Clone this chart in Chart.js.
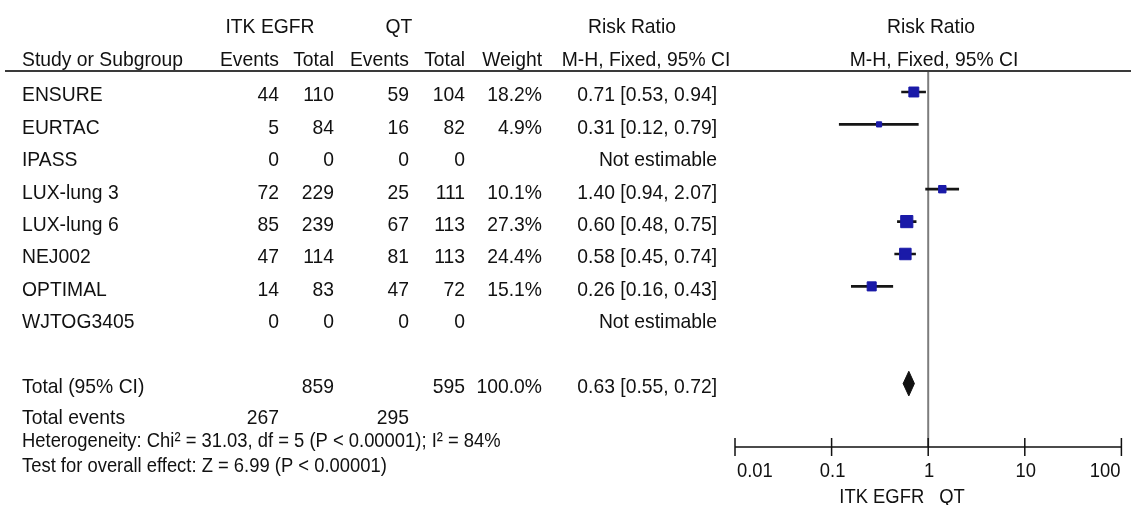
<!DOCTYPE html>
<html>
<head>
<meta charset="utf-8">
<script src="https://cdn.jsdelivr.net/npm/chart.js@4.4.1/dist/chart.umd.min.js"></script>
<style>
  html, body { margin: 0; padding: 0; background: #ffffff; }
  #wrap { width: 1131px; height: 505px; }
</style>
</head>
<body>
<div id="wrap"><canvas id="forest" width="1131" height="505"></canvas></div>
<script>
// Study-level data (risk ratio, M-H fixed effect)
const studies    = ['ENSURE', 'EURTAC', 'IPASS', 'LUX-lung 3', 'LUX-lung 6', 'NEJ002', 'OPTIMAL', 'WJTOG3405'];
const egfrEvents = [44, 5, 0, 72, 85, 47, 14, 0];
const egfrTotal  = [110, 84, 0, 229, 239, 114, 83, 0];
const qtEvents   = [59, 16, 0, 25, 67, 81, 47, 0];
const qtTotal    = [104, 82, 0, 111, 113, 113, 72, 0];
const weights    = [18.2, 4.9, null, 10.1, 27.3, 24.4, 15.1, null];
const riskRatio  = [0.71, 0.31, null, 1.40, 0.60, 0.58, 0.26, null];
const ciLow      = [0.53, 0.12, null, 0.94, 0.48, 0.45, 0.16, null];
const ciHigh     = [0.94, 0.79, null, 2.07, 0.75, 0.74, 0.43, null];

// Pooled result
const pooledRR = 0.63, pooledLow = 0.55, pooledHigh = 0.72;
const pooledEgfrTotal = 859, pooledQtTotal = 595, pooledWeight = '100.0%';
const eventsEgfr = 267, eventsQt = 295;
const heterogeneityText = 'Heterogeneity: Chi\u00B2 = 31.03, df = 5 (P < 0.00001); I\u00B2 = 84%';
const overallText = 'Test for overall effect: Z = 6.99 (P < 0.00001)';

// Axis
const axisTicks  = [0.01, 0.1, 1, 10, 100];
const axisTickLabels = ['0.01', '0.1', '1', '10', '100'];
const favoursLeft = 'ITK EGFR', favoursRight = 'QT';

// Row slots on the vertical scale
const pooledRow = 9;
const eventsRow = 9.95;
const hetRow = 10.66;
const overallRow = 11.42;

const fmtRR = (i) => riskRatio[i] == null ? 'Not estimable'
  : riskRatio[i].toFixed(2) + ' [' + ciLow[i].toFixed(2) + ', ' + ciHigh[i].toFixed(2) + ']';

const studyRows = studies.map((s, i) => i).filter(i => riskRatio[i] != null);

const ciData = studyRows.map(i => ({ x: [ciLow[i], ciHigh[i]], y: i }));
const pointData = studyRows.map(i => ({ x: riskRatio[i], y: i }));
// marker area follows the study weight
const pointSizes = studyRows.map(i => 8.6 * Math.sqrt(weights[i] / 27.3));
const diamondH = 0.38;
const diamondData = [
  { x: pooledLow, y: pooledRow },
  { x: pooledRR, y: pooledRow - diamondH },
  { x: pooledHigh, y: pooledRow },
  { x: pooledRR, y: pooledRow + diamondH },
  { x: pooledLow, y: pooledRow }
];

const FONT = '"Liberation Sans", Arial, sans-serif';
const INK = '#111111';

function txt(ctx, s, x, y, align, size, sx) {
  ctx.save();
  ctx.font = size + 'px ' + FONT;
  ctx.fillStyle = INK;
  ctx.textBaseline = 'alphabetic';
  ctx.textAlign = align;
  ctx.translate(x, y);
  ctx.scale(sx, 1);
  ctx.fillText(s, 0, 0);
  ctx.restore();
}

const cols = { study: 22, ee: 279, et: 334, qe: 409, qt: 465, w: 542, ci: 717 };
const SX = 0.92;

const forestPlugin = {
  id: 'forestTable',
  beforeDatasetsDraw(chart) {
    const { ctx, chartArea, scales } = chart;
    const x1 = scales.x.getPixelForValue(1);
    ctx.save();
    ctx.strokeStyle = '#7d7d7d';
    ctx.lineWidth = 2;
    ctx.beginPath();
    ctx.moveTo(x1, chartArea.top);
    ctx.lineTo(x1, chartArea.bottom);
    ctx.stroke();
    ctx.restore();
  },
  afterDraw(chart) {
    const { ctx, chartArea, scales } = chart;
    const xs = scales.x, ys = scales.y;
    const rowY = (r) => ys.getPixelForValue(r) + 9.5;

    // header
    txt(ctx, 'ITK EGFR', 270, 33, 'center', 21, SX);
    txt(ctx, 'QT', 399, 33, 'center', 21, SX);
    txt(ctx, 'Risk Ratio', 632, 33, 'center', 21, SX);
    txt(ctx, 'Risk Ratio', 931, 33, 'center', 21, SX);
    txt(ctx, 'Study or Subgroup', cols.study, 66, 'left', 21, SX);
    txt(ctx, 'Events', cols.ee, 66, 'right', 21, SX);
    txt(ctx, 'Total', cols.et, 66, 'right', 21, SX);
    txt(ctx, 'Events', cols.qe, 66, 'right', 21, SX);
    txt(ctx, 'Total', cols.qt, 66, 'right', 21, SX);
    txt(ctx, 'Weight', cols.w, 66, 'right', 21, SX);
    txt(ctx, 'M-H, Fixed, 95% CI', 646, 66, 'center', 21, SX);
    txt(ctx, 'M-H, Fixed, 95% CI', 934, 66, 'center', 21, SX);

    // rule under header
    ctx.save();
    ctx.strokeStyle = '#3a3a3a';
    ctx.lineWidth = 2;
    ctx.beginPath();
    ctx.moveTo(5, chartArea.top - 1);
    ctx.lineTo(1131, chartArea.top - 1);
    ctx.stroke();
    ctx.restore();

    // study rows
    studies.forEach((s, i) => {
      const y = rowY(i);
      txt(ctx, s, cols.study, y, 'left', 21, SX);
      txt(ctx, String(egfrEvents[i]), cols.ee, y, 'right', 21, SX);
      txt(ctx, String(egfrTotal[i]), cols.et, y, 'right', 21, SX);
      txt(ctx, String(qtEvents[i]), cols.qe, y, 'right', 21, SX);
      txt(ctx, String(qtTotal[i]), cols.qt, y, 'right', 21, SX);
      if (weights[i] != null) txt(ctx, weights[i].toFixed(1) + '%', cols.w, y, 'right', 21, SX);
      txt(ctx, fmtRR(i), cols.ci, y, 'right', 21, SX);
    });

    // pooled rows
    let y = rowY(pooledRow);
    txt(ctx, 'Total (95% CI)', cols.study, y, 'left', 21, SX);
    txt(ctx, String(pooledEgfrTotal), cols.et, y, 'right', 21, SX);
    txt(ctx, String(pooledQtTotal), cols.qt, y, 'right', 21, SX);
    txt(ctx, pooledWeight, cols.w, y, 'right', 21, SX);
    txt(ctx, pooledRR.toFixed(2) + ' [' + pooledLow.toFixed(2) + ', ' + pooledHigh.toFixed(2) + ']', cols.ci, y, 'right', 21, SX);
    y = rowY(eventsRow);
    txt(ctx, 'Total events', cols.study, y, 'left', 21, SX);
    txt(ctx, String(eventsEgfr), cols.ee, y, 'right', 21, SX);
    txt(ctx, String(eventsQt), cols.qe, y, 'right', 21, SX);
    txt(ctx, heterogeneityText, cols.study, rowY(hetRow), 'left', 20, SX);
    txt(ctx, overallText, cols.study, rowY(overallRow), 'left', 20, SX);

    // x axis
    const axY = chartArea.bottom;
    ctx.save();
    ctx.strokeStyle = '#111';
    ctx.lineWidth = 1.5;
    ctx.beginPath();
    ctx.moveTo(xs.getPixelForValue(axisTicks[0]), axY);
    ctx.lineTo(xs.getPixelForValue(axisTicks[axisTicks.length - 1]), axY);
    axisTicks.forEach(t => {
      const px = xs.getPixelForValue(t);
      ctx.moveTo(px, axY - 9);
      ctx.lineTo(px, axY + 9);
    });
    ctx.stroke();
    ctx.restore();
    const last = axisTicks.length - 1;
    axisTicks.forEach((t, k) => {
      const align = k === 0 ? 'left' : (k === last ? 'right' : 'center');
      const px = xs.getPixelForValue(t) + (k === 0 ? 2 : (k === last ? -1 : 1));
      txt(ctx, axisTickLabels[k], px, axY + 30, align, 20, SX);
    });
    const x1 = xs.getPixelForValue(1);
    txt(ctx, favoursLeft, x1 - 4, axY + 56, 'right', 20, SX);
    txt(ctx, favoursRight, x1 + 11, axY + 56, 'left', 20, SX);
  }
};

new Chart(document.getElementById('forest'), {
  type: 'scatter',
  data: {
    datasets: [
      {
        type: 'bar',
        indexAxis: 'y',
        data: ciData,
        backgroundColor: '#151515',
        borderWidth: 0,
        barThickness: 2,
        grouped: false,
        order: 3
      },
      {
        type: 'scatter',
        data: pointData,
        pointStyle: 'rect',
        pointRadius: pointSizes,
        backgroundColor: '#1a1aa8',
        borderColor: '#1a1aa8',
        borderWidth: 1,
        order: 2
      },
      {
        type: 'scatter',
        data: diamondData,
        showLine: true,
        fill: 'shape',
        tension: 0,
        pointRadius: 0,
        borderColor: '#111',
        backgroundColor: '#111',
        borderWidth: 1,
        order: 1
      }
    ]
  },
  options: {
    responsive: false,
    devicePixelRatio: 1,
    animation: false,
    events: [],
    layout: { padding: { left: 735, right: 7, top: 72, bottom: 58 } },
    plugins: { legend: { display: false }, tooltip: { enabled: false } },
    scales: {
      x: { type: 'logarithmic', min: 0.01, max: 100, display: false, offset: false },
      y: { type: 'linear', min: -0.617, max: 10.957, reverse: true, display: false, offset: false }
    }
  },
  plugins: [forestPlugin]
});
</script>
</body>
</html>
